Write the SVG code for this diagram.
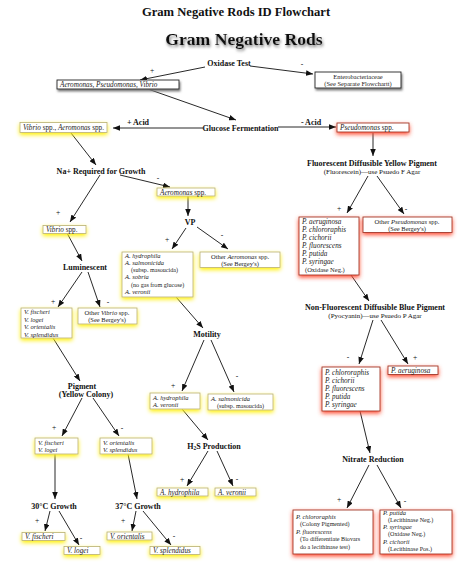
<svg xmlns="http://www.w3.org/2000/svg" width="474" height="583" viewBox="0 0 474 583">
<defs>
<style>
text{font-family:"Liberation Serif","Times New Roman",serif;fill:#111}
.t1{font-size:12.6px;font-weight:bold;text-anchor:middle}
.t2{font-size:17.6px;font-weight:bold;text-anchor:middle}
.lb{font-size:8px;font-weight:bold;text-anchor:middle}
.sub{font-size:7px;text-anchor:middle}
.pm{font-size:7.5px;text-anchor:middle}
.it{font-size:7.2px;font-style:italic;fill:#222}
.it2{font-size:6.5px;font-style:italic;fill:#222}
.nm{font-size:6.5px;fill:#222}
.nm2{font-size:6.1px;fill:#222}
.c{text-anchor:middle}
.by{fill:#fff;stroke:#b8b070;stroke-width:0.8;filter:url(#gy)}
.br{fill:#fff;stroke:#a03a2a;stroke-width:0.9;filter:url(#gr)}
.bk{fill:#fff;stroke:#222;stroke-width:0.9;filter:url(#gk)}
#conn line{stroke:#111;stroke-width:0.9;marker-end:url(#ah)}
</style>
<marker id="ah" viewBox="0 0 10 8" markerUnits="userSpaceOnUse" markerWidth="7" markerHeight="5.6" refX="10" refY="4" orient="auto">
<path d="M0,0 L10,4 L0,8 z" fill="#111"/>
</marker>
<filter id="gy" x="-50%" y="-100%" width="200%" height="300%">
<feGaussianBlur in="SourceAlpha" stdDeviation="2"/>
<feOffset dy="2" result="b"/>
<feFlood flood-color="#fff000"/>
<feComposite in2="b" operator="in"/>
<feMerge><feMergeNode/><feMergeNode in="SourceGraphic"/></feMerge>
</filter>
<filter id="gr" x="-50%" y="-100%" width="200%" height="300%">
<feGaussianBlur in="SourceAlpha" stdDeviation="2"/>
<feOffset dy="2" result="b"/>
<feFlood flood-color="#ff4a30"/>
<feComposite in2="b" operator="in"/>
<feMerge><feMergeNode/><feMergeNode in="SourceGraphic"/></feMerge>
</filter>
<filter id="gk" x="-50%" y="-100%" width="200%" height="300%">
<feGaussianBlur in="SourceAlpha" stdDeviation="1.2"/>
<feOffset dx="1" dy="1.5" result="b"/>
<feFlood flood-color="#777"/>
<feComposite in2="b" operator="in"/>
<feMerge><feMergeNode/><feMergeNode in="SourceGraphic"/></feMerge>
</filter>
<filter id="ts" x="-10%" y="-50%" width="120%" height="200%">
<feGaussianBlur in="SourceAlpha" stdDeviation="1.6"/>
<feOffset dx="1" dy="2" result="b"/>
<feFlood flood-color="#777"/>
<feComposite in2="b" operator="in"/>
<feMerge><feMergeNode/><feMergeNode in="SourceGraphic"/></feMerge>
</filter>
</defs>
<rect width="474" height="583" fill="#fff"/>

<g id="title">
<text class="t1" x="236" y="16">Gram Negative Rods ID Flowchart</text>
<text class="t2" x="244" y="45" filter="url(#ts)">Gram Negative Rods</text>
</g>

<g id="conn">
<line x1="205" y1="67" x2="140" y2="80"/>
<line x1="250" y1="66" x2="313" y2="74"/>
<line x1="145" y1="88" x2="236" y2="120"/>
<line x1="203" y1="128" x2="113" y2="128"/>
<line x1="278" y1="127" x2="336" y2="127"/>
<line x1="373" y1="133" x2="373" y2="156"/>
<line x1="368" y1="176" x2="347" y2="213"/>
<line x1="377" y1="176" x2="404" y2="214"/>
<line x1="351" y1="275" x2="369" y2="301"/>
<line x1="373" y1="320" x2="359" y2="364"/>
<line x1="381" y1="320" x2="408" y2="364"/>
<line x1="360" y1="411" x2="370" y2="453"/>
<line x1="369" y1="465" x2="347" y2="508"/>
<line x1="377" y1="465" x2="401" y2="508"/>
<line x1="71" y1="133" x2="96" y2="165"/>
<line x1="100" y1="175" x2="70" y2="222"/>
<line x1="120" y1="175" x2="170" y2="187"/>
<line x1="188" y1="196" x2="188" y2="216"/>
<line x1="186" y1="228" x2="172" y2="249"/>
<line x1="197" y1="227" x2="228" y2="249"/>
<line x1="67" y1="233" x2="82" y2="261"/>
<line x1="82" y1="272" x2="58" y2="307"/>
<line x1="88" y1="272" x2="100" y2="307"/>
<line x1="176" y1="297" x2="203" y2="328"/>
<line x1="204" y1="340" x2="182" y2="391"/>
<line x1="211" y1="340" x2="234" y2="392"/>
<line x1="53" y1="338" x2="80" y2="381"/>
<line x1="82" y1="398" x2="62" y2="436"/>
<line x1="93" y1="398" x2="119" y2="436"/>
<line x1="182" y1="409" x2="208" y2="440"/>
<line x1="208" y1="451" x2="187" y2="486"/>
<line x1="217" y1="451" x2="233" y2="486"/>
<line x1="55" y1="454" x2="55" y2="499"/>
<line x1="128" y1="454" x2="137" y2="499"/>
<line x1="50" y1="511" x2="45" y2="531"/>
<line x1="59" y1="511" x2="79" y2="545"/>
<line x1="136" y1="511" x2="132" y2="531"/>
<line x1="143" y1="511" x2="171" y2="545"/>
</g>

<g id="signs">
<text class="pm" x="152" y="73">+</text><text class="pm" x="302" y="67">-</text>
<text class="pm" x="58" y="215">+</text><text class="pm" x="158" y="181">-</text>
<text class="pm" x="167" y="242">+</text><text class="pm" x="222" y="238">-</text>
<text class="pm" x="53" y="304">+</text><text class="pm" x="108" y="305">-</text>
<text class="pm" x="173" y="388">+</text><text class="pm" x="237" y="379">-</text>
<text class="pm" x="54" y="430">+</text><text class="pm" x="122" y="431">-</text>
<text class="pm" x="182" y="482">+</text><text class="pm" x="237" y="482">-</text>
<text class="pm" x="37" y="523">+</text><text class="pm" x="81" y="541">-</text>
<text class="pm" x="123" y="523">+</text><text class="pm" x="174" y="539">-</text>
<text class="pm" x="339" y="211">+</text><text class="pm" x="406" y="212">-</text>
<text class="pm" x="348" y="360">-</text><text class="pm" x="415" y="360">+</text>
<text class="pm" x="339" y="502">+</text><text class="pm" x="405" y="504">-</text>
</g>

<g id="oxidase"><text class="lb" x="229" y="66">Oxidase Test</text></g>
<g id="glucose"><text class="lb" x="240.5" y="131">Glucose Fermentation</text>
<text class="lb" x="138" y="125">+  Acid</text><text class="lb" x="311" y="125">-  Acid</text></g>
<g id="na"><text class="lb" x="101" y="173.5">Na+ Required for Growth</text></g>
<g id="vp"><text class="lb" x="190" y="225">VP</text></g>
<g id="lumin"><text class="lb" x="85" y="270">Luminescent</text></g>
<g id="motility"><text class="lb" x="207" y="337">Motility</text></g>
<g id="pigment"><text class="lb" x="82" y="389">Pigment</text><text class="lb" x="86" y="397">(Yellow Colony)</text></g>
<g id="h2s"><text class="lb" x="214" y="448.5">H<tspan font-size="5.5" dy="1.5">2</tspan><tspan dy="-1.5">S Production</tspan></text></g>
<g id="g30"><text class="lb" x="54" y="508.5">30°C Growth</text></g>
<g id="g37"><text class="lb" x="138" y="508.5">37°C Growth</text></g>
<g id="fluor"><text class="lb" x="372" y="165.5" font-size="7.6">Fluorescent Diffusible Yellow Pigment</text><text class="sub" x="372" y="173.5">(Fluorescein)—use Psuedo F Agar</text></g>
<g id="nonfluor"><text class="lb" x="375" y="309.5" font-size="7.6">Non-Fluorescent Diffusible Blue Pigment</text><text class="sub" x="375" y="317.5">(Pyocyanin)—use Psuedo P Agar</text></g>
<g id="nitrate"><text class="lb" x="373" y="461.5">Nitrate Reduction</text></g>

<g id="n-apv"><rect class="bk" x="57" y="80" width="122" height="9"/><text class="it" x="60" y="87">Aeromonas, Pseudomonas, Vibrio</text></g>
<g id="n-entero"><rect class="bk" x="315" y="72" width="86" height="16"/><text class="nm c" x="358" y="78.5">Enterobacteriaceae</text><text class="nm c" x="358" y="85.8">(See Separate Flowchartt)</text></g>
<g id="n-va"><rect class="by" x="20" y="122.5" width="87" height="10"/><text class="it" x="23" y="130">Vibrio <tspan font-style="normal">spp.,</tspan> Aeromonas <tspan font-style="normal">spp.</tspan></text></g>
<g id="n-pseudo"><rect class="br" x="337" y="123" width="72" height="9"/><text class="it" x="340" y="130">Pseudomonas <tspan font-style="normal">spp.</tspan></text></g>
<g id="n-plist1"><rect class="br" x="299" y="217" width="60" height="58"/>
<text class="it" x="302" y="224">P. aeruginosa</text><text class="it" x="302" y="232">P. chlororaphis</text><text class="it" x="302" y="240">P. cichorii</text><text class="it" x="302" y="248">P. fluorescens</text><text class="it" x="302" y="256">P. putida</text><text class="it" x="302" y="264">P. syringae</text><text class="nm" x="305" y="272">(Oxidase Neg.)</text></g>
<g id="n-otherp"><rect class="br" x="363" y="217" width="89" height="15.5"/><text class="nm c" x="407" y="223.5">Other <tspan font-style="italic">Pseudomonas</tspan> spp.</text><text class="nm c" x="407" y="231">(See Bergey's)</text></g>
<g id="n-plist2"><rect class="br" x="322" y="367" width="58" height="44"/>
<text class="it" x="325" y="375">P. chlororaphis</text><text class="it" x="325" y="383">P. cichorii</text><text class="it" x="325" y="391">P. fluorescens</text><text class="it" x="325" y="399">P. putida</text><text class="it" x="325" y="407">P. syringae</text></g>
<g id="n-paer"><rect class="br" x="388" y="366" width="50" height="8.5"/><text class="it" x="391" y="372.5">P. aeruginosa</text></g>
<g id="n-nitpos"><rect class="br" x="293" y="510" width="80" height="44"/>
<text class="it2" x="296" y="518.5">P. chlororaphis</text><text class="nm2" x="300" y="526">(Colony Pigmented)</text><text class="it2" x="296" y="533.5">P. fluorescens</text><text class="nm2" x="300" y="541">(To differentiate Biovars</text><text class="nm2" x="300" y="548.5">do a lecithinase test)</text></g>
<g id="n-nitneg"><rect class="br" x="380" y="510" width="72" height="44"/>
<text class="it2" x="383" y="514.5">P. putida</text><text class="nm2" x="388" y="521.8">(Lecithinase Neg.)</text><text class="it2" x="383" y="529.1">P. syringae</text><text class="nm2" x="388" y="536.4">(Oxidase Neg.)</text><text class="it2" x="383" y="543.7">P. cichorii</text><text class="nm2" x="388" y="551">(Lecithinase Pos.)</text></g>

<g id="n-aero"><rect class="by" x="157" y="188" width="58" height="8"/><text class="it" x="160" y="194.5">Aeromonas <tspan font-style="normal">spp.</tspan></text></g>
<g id="n-vib"><rect class="by" x="43" y="225.5" width="43" height="8"/><text class="it" x="46" y="232">Vibrio <tspan font-style="normal">spp.</tspan></text></g>
<g id="n-alist"><rect class="by" x="122" y="252" width="71" height="45"/>
<text class="it2" x="125" y="257.5">A. hydrophila</text><text class="it2" x="125" y="264.8">A. salmonicida</text><text class="nm2" x="131" y="272.1">(subsp. masoucida)</text><text class="it2" x="125" y="279.4">A. sobria</text><text class="nm2" x="131" y="286.7">(no gas from glucose)</text><text class="it2" x="125" y="294">A. veronii</text></g>
<g id="n-othera"><rect class="by" x="200" y="252" width="80" height="15.5"/><text class="nm c" x="240" y="258.5">Other <tspan font-style="italic">Aeromonas</tspan> spp.</text><text class="nm c" x="240" y="266">(See Bergey's)</text></g>
<g id="n-vlist"><rect class="by" x="21" y="308" width="51" height="30"/>
<text class="it2" x="24" y="314">V. fischeri</text><text class="it2" x="24" y="321.5">V. logei</text><text class="it2" x="24" y="329">V. orientalis</text><text class="it2" x="24" y="336.5">V. splendidus</text></g>
<g id="n-otherv"><rect class="by" x="78" y="308" width="59" height="16"/><text class="nm c" x="107" y="314.5">Other <tspan font-style="italic">Vibrio</tspan> spp.</text><text class="nm c" x="107" y="322">(See Bergey's)</text></g>
<g id="n-ahv"><rect class="by" x="150" y="393" width="50" height="16"/><text class="it2" x="153" y="399.5">A. hydrophila</text><text class="it2" x="153" y="407">A. veronii</text></g>
<g id="n-asal"><rect class="by" x="208" y="394" width="65" height="16"/><text class="it2" x="211" y="400.5">A. salmonicida</text><text class="nm2" x="217" y="408">(subsp. masoucida)</text></g>
<g id="n-vfl"><rect class="by" x="35" y="438" width="43" height="16"/><text class="it2" x="38" y="444.5">V. fischeri</text><text class="it2" x="38" y="452">V. logei</text></g>
<g id="n-vos"><rect class="by" x="100" y="438" width="52" height="16"/><text class="it2" x="103" y="444.5">V. orientalis</text><text class="it2" x="103" y="452">V. splendidus</text></g>
<g id="n-ah"><rect class="by" x="157" y="488" width="51" height="8"/><text class="it" x="160" y="494.5">A. hydrophila</text></g>
<g id="n-av"><rect class="by" x="215" y="488" width="41" height="8"/><text class="it" x="218" y="494.5">A. veronii</text></g>
<g id="n-vf"><rect class="by" x="22" y="532.5" width="43" height="8"/><text class="it" x="25" y="539">V. fischeri</text></g>
<g id="n-vl"><rect class="by" x="64" y="546.5" width="36" height="8"/><text class="it" x="67" y="553">V. logei</text></g>
<g id="n-vo"><rect class="by" x="107" y="532" width="45" height="8"/><text class="it" x="110" y="538.5">V. orientalis</text></g>
<g id="n-vs"><rect class="by" x="150" y="546.5" width="50" height="8"/><text class="it" x="153" y="553">V. splendidus</text></g>
</svg>
